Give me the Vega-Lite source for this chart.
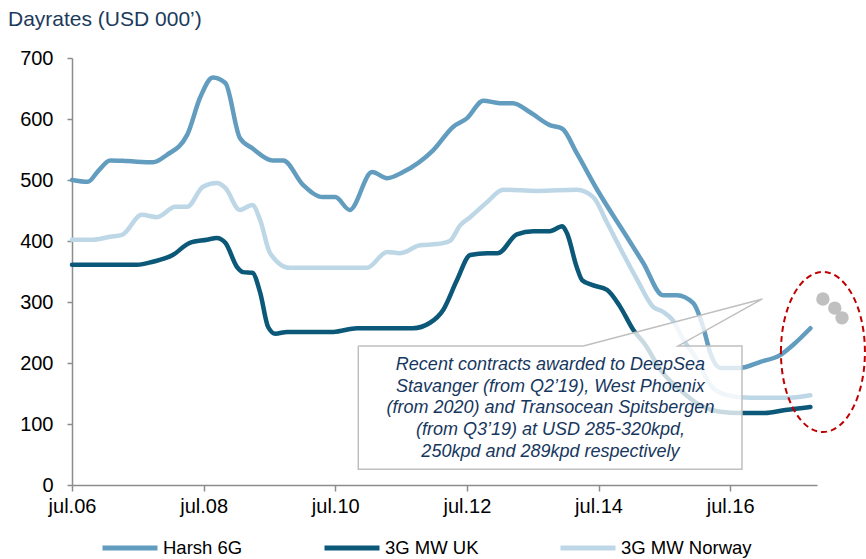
{
  "$schema": "https://vega.github.io/schema/vega-lite/v6.json",
  "width": 745,
  "height": 427,
  "autosize": {"type": "none"},
  "padding": {"left": 72, "top": 58, "right": 49, "bottom": 74},
  "background": "white",
  "config": {"font": "Liberation Sans", "view": {"stroke": null}, "axis": {"grid": false}},
  "title": {"text": "Dayrates (USD 000’)", "anchor": "start", "frame": "group", "fontSize": 21, "font": "Liberation Sans", "fontWeight": "normal", "color": "#1b3a5c", "dx": -64, "offset": 18},
  "datasets": {
    "rates": [
      {"series": "Harsh 6G", "t": 2006.5, "v": 500}, {"series": "Harsh 6G", "t": 2006.74, "v": 497}, {"series": "Harsh 6G", "t": 2006.9, "v": 515}, {"series": "Harsh 6G", "t": 2007.08, "v": 532}, {"series": "Harsh 6G", "t": 2007.34, "v": 531}, {"series": "Harsh 6G", "t": 2007.73, "v": 529}, {"series": "Harsh 6G", "t": 2007.94, "v": 541}, {"series": "Harsh 6G", "t": 2008.25, "v": 574}, {"series": "Harsh 6G", "t": 2008.45, "v": 636}, {"series": "Harsh 6G", "t": 2008.64, "v": 668}, {"series": "Harsh 6G", "t": 2008.83, "v": 659}, {"series": "Harsh 6G", "t": 2009.05, "v": 569}, {"series": "Harsh 6G", "t": 2009.24, "v": 552}, {"series": "Harsh 6G", "t": 2009.55, "v": 532}, {"series": "Harsh 6G", "t": 2009.71, "v": 532}, {"series": "Harsh 6G", "t": 2010.01, "v": 492}, {"series": "Harsh 6G", "t": 2010.31, "v": 472}, {"series": "Harsh 6G", "t": 2010.5, "v": 472}, {"series": "Harsh 6G", "t": 2010.72, "v": 451}, {"series": "Harsh 6G", "t": 2011.06, "v": 513}, {"series": "Harsh 6G", "t": 2011.29, "v": 503}, {"series": "Harsh 6G", "t": 2011.53, "v": 513}, {"series": "Harsh 6G", "t": 2011.99, "v": 549}, {"series": "Harsh 6G", "t": 2012.29, "v": 587}, {"series": "Harsh 6G", "t": 2012.5, "v": 601}, {"series": "Harsh 6G", "t": 2012.75, "v": 630}, {"series": "Harsh 6G", "t": 2013.0, "v": 626}, {"series": "Harsh 6G", "t": 2013.2, "v": 626}, {"series": "Harsh 6G", "t": 2013.46, "v": 611}, {"series": "Harsh 6G", "t": 2013.76, "v": 590}, {"series": "Harsh 6G", "t": 2013.95, "v": 584}, {"series": "Harsh 6G", "t": 2014.17, "v": 544}, {"series": "Harsh 6G", "t": 2014.48, "v": 484}, {"series": "Harsh 6G", "t": 2014.93, "v": 407}, {"series": "Harsh 6G", "t": 2015.18, "v": 364}, {"series": "Harsh 6G", "t": 2015.48, "v": 311}, {"series": "Harsh 6G", "t": 2015.69, "v": 311}, {"series": "Harsh 6G", "t": 2015.94, "v": 298}, {"series": "Harsh 6G", "t": 2016.09, "v": 259}, {"series": "Harsh 6G", "t": 2016.2, "v": 216}, {"series": "Harsh 6G", "t": 2016.35, "v": 192}, {"series": "Harsh 6G", "t": 2016.65, "v": 192}, {"series": "Harsh 6G", "t": 2016.96, "v": 202}, {"series": "Harsh 6G", "t": 2017.26, "v": 213}, {"series": "Harsh 6G", "t": 2017.46, "v": 230}, {"series": "Harsh 6G", "t": 2017.72, "v": 257},
      {"series": "3G MW UK", "t": 2006.5, "v": 361}, {"series": "3G MW UK", "t": 2007.49, "v": 361}, {"series": "3G MW UK", "t": 2007.73, "v": 366}, {"series": "3G MW UK", "t": 2008.03, "v": 377}, {"series": "3G MW UK", "t": 2008.29, "v": 397}, {"series": "3G MW UK", "t": 2008.55, "v": 402}, {"series": "3G MW UK", "t": 2008.7, "v": 405}, {"series": "3G MW UK", "t": 2008.83, "v": 397}, {"series": "3G MW UK", "t": 2009.01, "v": 357}, {"series": "3G MW UK", "t": 2009.1, "v": 349}, {"series": "3G MW UK", "t": 2009.24, "v": 348}, {"series": "3G MW UK", "t": 2009.36, "v": 315}, {"series": "3G MW UK", "t": 2009.48, "v": 259}, {"series": "3G MW UK", "t": 2009.59, "v": 248}, {"series": "3G MW UK", "t": 2009.77, "v": 251}, {"series": "3G MW UK", "t": 2010.47, "v": 251}, {"series": "3G MW UK", "t": 2010.83, "v": 257}, {"series": "3G MW UK", "t": 2011.68, "v": 257}, {"series": "3G MW UK", "t": 2011.94, "v": 266}, {"series": "3G MW UK", "t": 2012.14, "v": 287}, {"series": "3G MW UK", "t": 2012.35, "v": 336}, {"series": "3G MW UK", "t": 2012.55, "v": 377}, {"series": "3G MW UK", "t": 2012.81, "v": 380}, {"series": "3G MW UK", "t": 2012.97, "v": 380}, {"series": "3G MW UK", "t": 2013.26, "v": 411}, {"series": "3G MW UK", "t": 2013.51, "v": 416}, {"series": "3G MW UK", "t": 2013.76, "v": 416}, {"series": "3G MW UK", "t": 2013.95, "v": 424}, {"series": "3G MW UK", "t": 2014.02, "v": 413}, {"series": "3G MW UK", "t": 2014.17, "v": 357}, {"series": "3G MW UK", "t": 2014.25, "v": 336}, {"series": "3G MW UK", "t": 2014.4, "v": 328}, {"series": "3G MW UK", "t": 2014.63, "v": 320}, {"series": "3G MW UK", "t": 2014.83, "v": 292}, {"series": "3G MW UK", "t": 2015.03, "v": 254}, {"series": "3G MW UK", "t": 2015.21, "v": 230}, {"series": "3G MW UK", "t": 2015.44, "v": 189}, {"series": "3G MW UK", "t": 2015.74, "v": 156}, {"series": "3G MW UK", "t": 2016.04, "v": 131}, {"series": "3G MW UK", "t": 2016.35, "v": 120}, {"series": "3G MW UK", "t": 2016.65, "v": 118}, {"series": "3G MW UK", "t": 2017.03, "v": 118}, {"series": "3G MW UK", "t": 2017.34, "v": 123}, {"series": "3G MW UK", "t": 2017.72, "v": 128},
      {"series": "3G MW Norway", "t": 2006.5, "v": 402}, {"series": "3G MW Norway", "t": 2006.82, "v": 402}, {"series": "3G MW Norway", "t": 2007.08, "v": 407}, {"series": "3G MW Norway", "t": 2007.26, "v": 410}, {"series": "3G MW Norway", "t": 2007.56, "v": 443}, {"series": "3G MW Norway", "t": 2007.79, "v": 439}, {"series": "3G MW Norway", "t": 2008.07, "v": 456}, {"series": "3G MW Norway", "t": 2008.25, "v": 456}, {"series": "3G MW Norway", "t": 2008.49, "v": 489}, {"series": "3G MW Norway", "t": 2008.7, "v": 495}, {"series": "3G MW Norway", "t": 2008.83, "v": 487}, {"series": "3G MW Norway", "t": 2009.05, "v": 451}, {"series": "3G MW Norway", "t": 2009.24, "v": 459}, {"series": "3G MW Norway", "t": 2009.36, "v": 434}, {"series": "3G MW Norway", "t": 2009.51, "v": 380}, {"series": "3G MW Norway", "t": 2009.81, "v": 356}, {"series": "3G MW Norway", "t": 2010.12, "v": 356}, {"series": "3G MW Norway", "t": 2010.98, "v": 356}, {"series": "3G MW Norway", "t": 2011.29, "v": 382}, {"series": "3G MW Norway", "t": 2011.48, "v": 380}, {"series": "3G MW Norway", "t": 2011.79, "v": 393}, {"series": "3G MW Norway", "t": 2012.05, "v": 395}, {"series": "3G MW Norway", "t": 2012.24, "v": 400}, {"series": "3G MW Norway", "t": 2012.4, "v": 426}, {"series": "3G MW Norway", "t": 2012.55, "v": 439}, {"series": "3G MW Norway", "t": 2012.81, "v": 464}, {"series": "3G MW Norway", "t": 2013.05, "v": 484}, {"series": "3G MW Norway", "t": 2013.57, "v": 482}, {"series": "3G MW Norway", "t": 2014.17, "v": 484}, {"series": "3G MW Norway", "t": 2014.42, "v": 472}, {"series": "3G MW Norway", "t": 2014.63, "v": 430}, {"series": "3G MW Norway", "t": 2014.87, "v": 380}, {"series": "3G MW Norway", "t": 2015.09, "v": 336}, {"series": "3G MW Norway", "t": 2015.33, "v": 292}, {"series": "3G MW Norway", "t": 2015.48, "v": 284}, {"series": "3G MW Norway", "t": 2015.63, "v": 270}, {"series": "3G MW Norway", "t": 2015.79, "v": 238}, {"series": "3G MW Norway", "t": 2016.0, "v": 205}, {"series": "3G MW Norway", "t": 2016.2, "v": 164}, {"series": "3G MW Norway", "t": 2016.35, "v": 151}, {"series": "3G MW Norway", "t": 2016.65, "v": 144}, {"series": "3G MW Norway", "t": 2016.96, "v": 143}, {"series": "3G MW Norway", "t": 2017.41, "v": 143}, {"series": "3G MW Norway", "t": 2017.72, "v": 147}
    ],
    "bubble": [
      {"i": 1, "t": 2010.85, "v": 228}, {"i": 2, "t": 2014.27, "v": 228}, {"i": 3, "t": 2016.99, "v": 305}, {"i": 4, "t": 2015.71, "v": 228}, {"i": 5, "t": 2016.68, "v": 228}, {"i": 6, "t": 2016.68, "v": 26}, {"i": 7, "t": 2010.85, "v": 26}, {"i": 8, "t": 2010.85, "v": 228}
    ],
    "note": [
      {"t": 2013.77, "v": 197, "label": "Recent contracts awarded to DeepSea\nStavanger (from Q2’19), West Phoenix\n(from 2020) and Transocean Spitsbergen\n(from Q3’19) at USD 285-320kpd,\n250kpd and 289kpd respectively"}
    ],
    "contracts": [
      {"t": 2017.91, "v": 305}, {"t": 2018.09, "v": 290}, {"t": 2018.2, "v": 274}
    ],
    "highlight": [
      {"t": 2017.91, "v": 218}
    ]
  },
  "layer": [
    {
      "data": {"name": "rates"},
      "mark": {"type": "line", "interpolate": "monotone", "strokeWidth": 4.5, "strokeCap": "round", "strokeJoin": "round"},
      "encoding": {
        "x": {"field": "t", "type": "quantitative", "scale": {"domain": [2006.5, 2017.82], "nice": false, "zero": false},
          "axis": {"title": null, "values": [2006.5, 2008.5, 2010.5, 2012.5, 2014.5, 2016.5], "labelExpr": "'jul.' + slice(toString(floor(datum.value)), 2)", "tickSize": 6, "tickWidth": 1.5, "tickColor": "#8c8c8c", "domainColor": "#8c8c8c", "domainWidth": 1.5, "labelFontSize": 20, "labelColor": "#000000", "labelPadding": 5, "labelFlush": false, "labelFont": "Liberation Sans"}},
        "y": {"field": "v", "type": "quantitative", "scale": {"domain": [0, 700], "nice": false},
          "axis": {"title": null, "values": [0, 100, 200, 300, 400, 500, 600, 700], "tickSize": 5, "tickWidth": 1.5, "tickColor": "#8c8c8c", "domainColor": "#8c8c8c", "domainWidth": 1.5, "labelFontSize": 20, "labelColor": "#000000", "labelPadding": 14, "labelFont": "Liberation Sans"}},
        "color": {"field": "series", "type": "nominal",
          "scale": {"domain": ["Harsh 6G", "3G MW UK", "3G MW Norway"], "range": ["#629dc0", "#0b5878", "#bdd7e7"]},
          "legend": {"orient": "none", "legendX": 28, "legendY": 460, "direction": "horizontal", "columns": 3, "title": null, "symbolType": "stroke", "symbolSize": 3025, "symbolStrokeWidth": 5, "labelFontSize": 18.5, "labelColor": "#000000", "labelFont": "Liberation Sans", "columnPadding": 71, "labelOffset": 3}}
      }
    },
    {
      "data": {"name": "bubble"},
      "mark": {"type": "line", "interpolate": "linear", "fill": "white", "fillOpacity": 0.78, "stroke": "#bfbfbf", "strokeWidth": 1.5},
      "encoding": {
        "x": {"field": "t", "type": "quantitative"},
        "y": {"field": "v", "type": "quantitative"},
        "order": {"field": "i", "type": "quantitative"}
      }
    },
    {
      "data": {"name": "note"},
      "mark": {"type": "text", "font": "Liberation Sans", "fontStyle": "italic", "fontSize": 18, "lineHeight": 21.7, "lineBreak": "\n", "align": "center", "baseline": "middle", "color": "#17375e"},
      "encoding": {
        "x": {"field": "t", "type": "quantitative"},
        "y": {"field": "v", "type": "quantitative"},
        "text": {"field": "label"}
      }
    },
    {
      "data": {"name": "contracts"},
      "mark": {"type": "circle", "size": 180, "color": "#c0c0c0", "opacity": 1},
      "encoding": {
        "x": {"field": "t", "type": "quantitative"},
        "y": {"field": "v", "type": "quantitative"}
      }
    },
    {
      "data": {"name": "highlight"},
      "mark": {"type": "point", "shape": "M -0.525 0 A 0.525 1 0 1 1 0.525 0 A 0.525 1 0 1 1 -0.525 0 Z", "size": 25600, "filled": false, "stroke": "#c00000", "strokeWidth": 2, "strokeDash": [6, 4], "opacity": 1},
      "encoding": {
        "x": {"field": "t", "type": "quantitative"},
        "y": {"field": "v", "type": "quantitative"}
      }
    }
  ]
}
